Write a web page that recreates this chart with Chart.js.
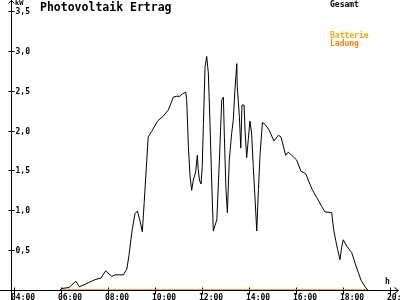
<!DOCTYPE html>
<html>
<head>
<meta charset="utf-8">
<script src="https://cdn.jsdelivr.net/npm/chart.js@4/dist/chart.umd.min.js"></script>
<style>
	body { margin: 0; background: #fff; }
	canvas { display: block; }
</style>
</head>
<body>
<canvas id="pv" width="400" height="300"></canvas>
<script>
// hours of day (decimal) and total output in kW
const times = [5.96, 6.03, 6.34, 6.63, 6.78, 7.16, 7.45, 7.70, 7.90, 8.16, 8.30, 8.65, 8.80, 8.89, 9.03, 9.15, 9.25, 9.36, 9.46, 9.54,
	9.65, 9.71, 9.86, 10.11, 10.35, 10.57, 10.78, 10.92, 11.06, 11.16, 11.31, 11.35, 11.42, 11.49, 11.56, 11.63, 11.73, 11.80, 11.84, 11.89,
	11.96, 12.01, 12.06, 12.13, 12.20, 12.27, 12.34, 12.41, 12.48, 12.63, 12.74, 12.84, 12.91, 12.95, 13.02, 13.08, 13.16, 13.26, 13.33, 13.40,
	13.48, 13.50, 13.59, 13.65, 13.70, 13.79, 13.83, 13.90, 13.97, 14.04, 14.11, 14.18, 14.26, 14.33, 14.40, 14.47, 14.57, 14.68, 14.85, 15.06,
	15.25, 15.36, 15.56, 15.67, 15.82, 16.03, 16.21, 16.41, 16.52, 16.69, 16.88, 17.09, 17.23, 17.52, 17.60, 17.69, 17.77, 17.87, 17.94, 18.01,
	18.16, 18.37, 18.51, 18.65, 18.77, 18.94, 19.05];
const gesamt = [0, 0.02, 0.03, 0.11, 0.04, 0.09, 0.13, 0.15, 0.24, 0.17, 0.19, 0.19, 0.26, 0.43, 0.76, 0.96, 0.99, 0.87, 0.73, 1.10,
	1.63, 1.92, 1.99, 2.12, 2.18, 2.26, 2.42, 2.43, 2.43, 2.46, 2.48, 2.38, 1.80, 1.43, 1.25, 1.38, 1.48, 1.69, 1.51, 1.38,
	1.33, 1.55, 2.09, 2.80, 2.93, 2.72, 2.09, 1.38, 0.74, 0.88, 1.63, 2.38, 2.42, 1.93, 1.26, 0.97, 1.63, 1.96, 2.13, 2.51,
	2.84, 2.55, 2.18, 1.78, 2.32, 2.32, 2.01, 1.66, 1.89, 2.12, 1.97, 1.55, 1.13, 0.74, 1.26, 1.70, 2.10, 2.08, 2.01, 1.87,
	1.94, 1.92, 1.69, 1.73, 1.69, 1.63, 1.49, 1.46, 1.38, 1.26, 1.16, 1.05, 0.98, 0.97, 0.76, 0.62, 0.51, 0.38, 0.53, 0.63,
	0.55, 0.47, 0.34, 0.22, 0.12, 0.04, 0];
// battery charging stays at zero all day
const ladungTimes = [5.98, 19.05];
const ladung = [0, 0];

const xTicks = [4, 6, 8, 10, 12, 14, 16, 18, 20];
const xTickLabels = ['04:00', '06:00', '08:00', '10:00', '12:00', '14:00', '16:00', '18:00', '20:00'];
const yTicks = [0.5, 1, 1.5, 2, 2.5, 3, 3.5];
const yTickLabels = ['0,5', '1,0', '1,5', '2,0', '2,5', '3,0', '3,5'];

const xMin = 3.872, xMax = 20.34;
const mono = '"DejaVu Sans Mono", monospace';

function line(ctx, x1, y1, x2, y2) {
	ctx.beginPath();
	ctx.moveTo(x1, y1);
	ctx.lineTo(x2, y2);
	ctx.stroke();
}

const axes = {
	id: 'axes',
	beforeDatasetsDraw(chart) {
		let ctx = chart.ctx,
			sx = chart.scales.x,
			sy = chart.scales.y,
			ax = Math.round(sx.getPixelForValue(xMin)) + 0.5,
			ay = Math.round(sy.getPixelForValue(0)) + 0.5;

		ctx.save();
		ctx.strokeStyle = '#000';
		ctx.lineWidth = 1;

		// y axis with arrow
		line(ctx, ax, 0, ax, 300);
		line(ctx, ax, 0.5, ax - 3, 3.5);
		line(ctx, ax, 0.5, ax + 3, 3.5);
		// x axis with arrow
		line(ctx, 0, ay, 398, ay);
		line(ctx, 398.5, ay, 394.5, ay - 3);
		line(ctx, 398.5, ay, 394.5, ay + 3);

		ctx.fillStyle = '#000';
		ctx.font = 'bold 8px ' + mono;
		ctx.textBaseline = 'middle';
		ctx.textAlign = 'left';
		yTicks.forEach(function(v, i) {
			let py = Math.round(sy.getPixelForValue(v)) + 0.5;
			line(ctx, ax - 3, py, ax + 3, py);
			ctx.fillText(yTickLabels[i], ax + 4, py + 0.5);
		});

		ctx.textBaseline = 'top';
		xTicks.forEach(function(h, i) {
			let px = Math.round(sx.getPixelForValue(h)) + 0.5;
			line(ctx, px, ay - 3, px, ay + 4);
			ctx.fillText(xTickLabels[i], px - 3.5, ay + 3);
		});

		ctx.fillText('h', 385, 278);
		ctx.font = 'bold 7px ' + mono;
		ctx.fillText('kW', 15, -0.5);

		ctx.font = 'bold 11.5px ' + mono;
		ctx.fillText('Photovoltaik Ertrag', 40, 2);

		ctx.font = 'bold 8px ' + mono;
		ctx.fillText('Gesamt', 330, 1);
		ctx.fillStyle = '#ffa500';
		ctx.fillText('Batterie', 330, 32);
		ctx.fillStyle = '#ff8000';
		ctx.fillText('Ladung', 330, 40);
		ctx.restore();
	}
};

new Chart(document.getElementById('pv'), {
	type: 'line',
	data: {
		datasets: [{
			label: 'Gesamt',
			data: times.map(function(t, i) { return { x: t, y: gesamt[i] }; }),
			borderColor: '#000',
			borderWidth: 1,
			pointRadius: 0,
			tension: 0
		}, {
			label: 'Batterie Ladung',
			data: ladungTimes.map(function(t, i) { return { x: t, y: ladung[i] }; }),
			borderColor: '#ff8000',
			borderWidth: 1.5,
			pointRadius: 0,
			tension: 0
		}]
	},
	options: {
		responsive: false,
		animation: false,
		layout: { padding: { left: 11, right: 2, top: 11, bottom: 10 } },
		plugins: { legend: { display: false }, tooltip: { enabled: false } },
		scales: {
			x: { type: 'linear', min: xMin, max: xMax, display: false },
			y: { min: 0, max: 3.5, display: false }
		}
	},
	plugins: [axes]
});
</script>
</body>
</html>
